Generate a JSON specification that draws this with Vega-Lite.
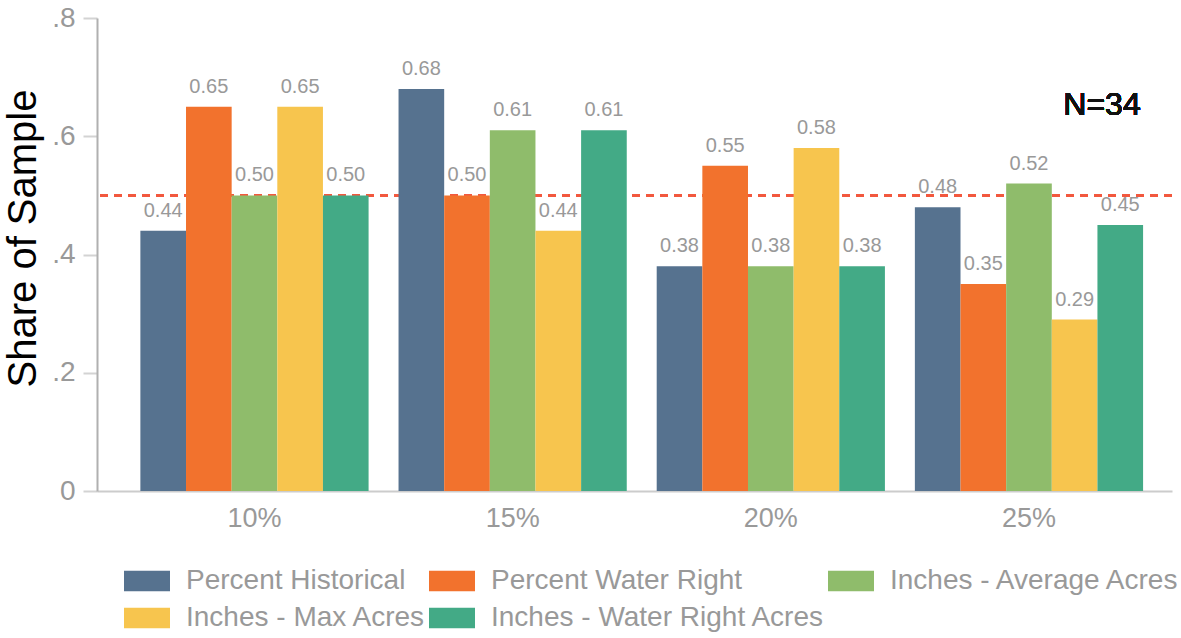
{
  "$schema": "https://vega.github.io/schema/vega-lite/v6.json",
  "width": 1075,
  "height": 473,
  "autosize": {"type": "none"},
  "padding": {"left": 97, "top": 18, "right": 9, "bottom": 147},
  "background": "white",
  "config": {
    "font": "Liberation Sans",
    "view": {"stroke": null}
  },
  "data": {
    "values": [
      {"group": "10%", "series": "Percent Historical", "value": 0.44},
      {"group": "10%", "series": "Percent Water Right", "value": 0.65},
      {"group": "10%", "series": "Inches - Average Acres", "value": 0.50},
      {"group": "10%", "series": "Inches - Max Acres", "value": 0.65},
      {"group": "10%", "series": "Inches - Water Right Acres", "value": 0.50},
      {"group": "15%", "series": "Percent Historical", "value": 0.68},
      {"group": "15%", "series": "Percent Water Right", "value": 0.50},
      {"group": "15%", "series": "Inches - Average Acres", "value": 0.61},
      {"group": "15%", "series": "Inches - Max Acres", "value": 0.44},
      {"group": "15%", "series": "Inches - Water Right Acres", "value": 0.61},
      {"group": "20%", "series": "Percent Historical", "value": 0.38},
      {"group": "20%", "series": "Percent Water Right", "value": 0.55},
      {"group": "20%", "series": "Inches - Average Acres", "value": 0.38},
      {"group": "20%", "series": "Inches - Max Acres", "value": 0.58},
      {"group": "20%", "series": "Inches - Water Right Acres", "value": 0.38},
      {"group": "25%", "series": "Percent Historical", "value": 0.48},
      {"group": "25%", "series": "Percent Water Right", "value": 0.35},
      {"group": "25%", "series": "Inches - Average Acres", "value": 0.52},
      {"group": "25%", "series": "Inches - Max Acres", "value": 0.29},
      {"group": "25%", "series": "Inches - Water Right Acres", "value": 0.45}
    ]
  },
  "encoding": {
    "x": {
      "field": "group",
      "type": "nominal",
      "scale": {"paddingInner": 0.116, "paddingOuter": 0.14, "align": 0.6},
      "axis": {
        "title": null,
        "labelAngle": 0,
        "labelFontSize": 27,
        "labelColor": "#999999",
        "labelPadding": 14,
        "ticks": false,
        "domainColor": "#cccccc",
        "domainWidth": 2
      }
    }
  },
  "layer": [
    {
      "mark": {"type": "rule", "color": "#f2583e", "strokeDash": [8, 6], "strokeWidth": 2},
      "encoding": {"x": null, "y": {"datum": 0.5}}
    },
    {
      "mark": {"type": "bar"},
      "encoding": {
        "xOffset": {
          "field": "series",
          "type": "nominal",
          "sort": ["Percent Historical", "Percent Water Right", "Inches - Average Acres", "Inches - Max Acres", "Inches - Water Right Acres"],
          "scale": {"paddingInner": 0, "paddingOuter": 0}
        },
        "y": {
          "field": "value",
          "type": "quantitative",
          "scale": {"domain": [0, 0.8], "nice": false},
          "axis": {
            "title": "Share of Sample",
            "titleFontSize": 40,
            "titleFontWeight": "normal",
            "titleColor": "#000000",
            "titlePadding": 8,
            "titleY": 220,
            "values": [0, 0.2, 0.4, 0.6, 0.8],
            "labelExpr": "datum.value == 0 ? '0' : replace(format(datum.value, '.1f'), '0.', '.')",
            "labelFontSize": 28,
            "labelColor": "#999999",
            "labelPadding": 8,
            "tickSize": 14,
            "tickColor": "#d3d3d3",
            "tickWidth": 2,
            "gridColor": "#d3d3d3",
            "gridWidth": 2,
            "domainColor": "#b0b0b0",
            "domainWidth": 2
          }
        },
        "color": {
          "field": "series",
          "type": "nominal",
          "scale": {
            "domain": ["Percent Historical", "Percent Water Right", "Inches - Average Acres", "Inches - Max Acres", "Inches - Water Right Acres"],
            "range": ["#56728f", "#f2722d", "#8fbc6b", "#f7c54e", "#43aa86"]
          },
          "legend": {
            "title": null,
            "orient": "none",
            "legendX": 27,
            "legendY": 540,
            "direction": "horizontal",
            "columns": 3,
            "columnPadding": 3,
            "rowPadding": -2,
            "symbolType": "M-1,-0.45H1V0.45H-1Z",
            "symbolSize": 2116,
            "symbolStrokeWidth": 0,
            "labelFontSize": 28,
            "labelColor": "#999999",
            "labelOffset": 16,
            "labelLimit": 500
          }
        }
      }
    },
    {
      "mark": {"type": "text", "baseline": "alphabetic", "dy": -14, "fontSize": 20, "color": "#999999"},
      "encoding": {
        "xOffset": {
          "field": "series",
          "type": "nominal",
          "sort": ["Percent Historical", "Percent Water Right", "Inches - Average Acres", "Inches - Max Acres", "Inches - Water Right Acres"]
        },
        "y": {"field": "value", "type": "quantitative"},
        "text": {"field": "value", "type": "quantitative", "format": ".2f"}
      }
    },
    {
      "mark": {"type": "text", "fontSize": 32, "color": "#111111", "baseline": "middle", "dx": 73},
      "encoding": {
        "x": {"datum": "25%"},
        "y": {"datum": 0.653},
        "text": {"value": "N=34"}
      }
    }
  ]
}
